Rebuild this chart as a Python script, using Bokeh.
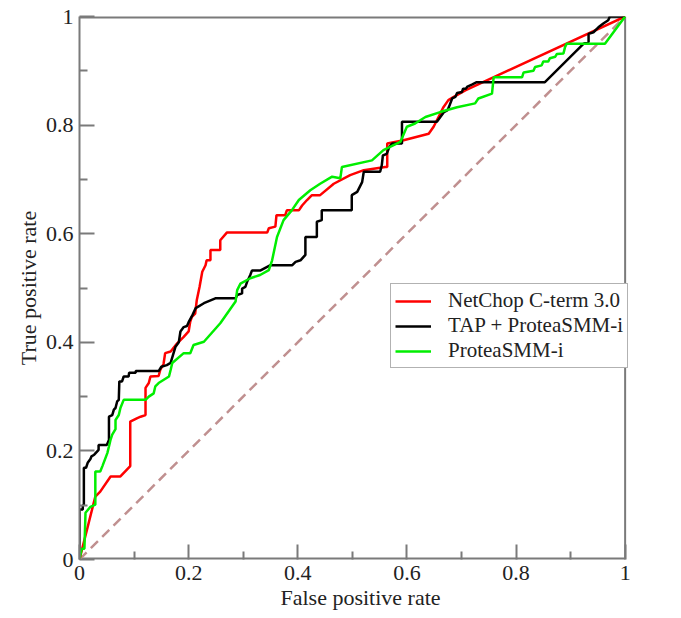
from bokeh.plotting import figure
from bokeh.models import Range1d, FixedTicker, CustomJSTickFormatter, Legend, LegendItem
from bokeh.embed import file_html
from bokeh.resources import INLINE

# ---- data ----
netchop_fpr = [0, 0.029, 0.038, 0.057, 0.075, 0.093, 0.093, 0.105, 0.112, 0.121, 0.121, 0.127, 0.13,
               0.145, 0.148, 0.154, 0.157, 0.167, 0.179, 0.191, 0.2, 0.203, 0.206, 0.212, 0.215, 0.22,
               0.225, 0.231, 0.233, 0.24, 0.24, 0.258, 0.258, 0.27, 0.344, 0.347, 0.359, 0.361, 0.377,
               0.38, 0.402, 0.408, 0.417, 0.426, 0.441, 0.466, 0.496, 0.521, 0.56, 0.564, 0.564, 0.594,
               0.64, 0.649, 0.661, 0.667, 0.676, 0.686, 0.707, 1.0]
netchop_tpr = [0, 0.116, 0.125, 0.153, 0.153, 0.172, 0.254, 0.26, 0.263, 0.266, 0.316, 0.325, 0.337,
               0.338, 0.349, 0.36, 0.38, 0.383, 0.398, 0.41, 0.42, 0.438, 0.447, 0.453, 0.478, 0.502,
               0.53, 0.542, 0.551, 0.551, 0.57, 0.57, 0.588, 0.602, 0.602, 0.61, 0.613, 0.634, 0.634,
               0.643, 0.643, 0.652, 0.662, 0.671, 0.671, 0.692, 0.708, 0.717, 0.723, 0.723, 0.766, 0.772,
               0.784, 0.797, 0.821, 0.833, 0.846, 0.852, 0.864, 1.0]

tap_fpr = [0, 0, 0.006, 0.006, 0.008, 0.008, 0.012, 0.015, 0.02, 0.022, 0.027, 0.035, 0.035, 0.05,
           0.054, 0.054, 0.06, 0.063, 0.066, 0.069, 0.072, 0.073, 0.078, 0.081, 0.09, 0.091, 0.103,
           0.103, 0.145, 0.15, 0.16, 0.167, 0.176, 0.182, 0.185, 0.191, 0.197, 0.2, 0.207, 0.213,
           0.228, 0.249, 0.286, 0.289, 0.298, 0.298, 0.304, 0.307, 0.313, 0.316, 0.331, 0.344, 0.35,
           0.39, 0.396, 0.405, 0.414, 0.414, 0.435, 0.435, 0.444, 0.444, 0.499, 0.499, 0.509, 0.518,
           0.521, 0.551, 0.554, 0.556, 0.563, 0.568, 0.573, 0.591, 0.591, 0.655, 0.668, 0.674, 0.677,
           0.683, 0.689, 0.692, 0.701, 0.703, 0.708, 0.711, 0.72, 0.728, 0.853, 0.924, 0.933, 0.933,
           0.942, 0.951, 0.96, 0.969, 0.972, 1.0]
tap_tpr = [0, 0.092, 0.092, 0.10, 0.10, 0.169, 0.169, 0.178, 0.185, 0.19, 0.193, 0.202, 0.211, 0.211,
           0.22, 0.263, 0.266, 0.276, 0.279, 0.291, 0.294, 0.328, 0.328, 0.337, 0.337, 0.344, 0.344,
           0.347, 0.347, 0.355, 0.358, 0.362, 0.392, 0.40, 0.42, 0.428, 0.43, 0.437, 0.45, 0.463,
           0.472, 0.481, 0.481, 0.487, 0.49, 0.499, 0.502, 0.511, 0.524, 0.532, 0.532, 0.539, 0.542,
           0.542, 0.548, 0.551, 0.561, 0.594, 0.594, 0.622, 0.625, 0.643, 0.643, 0.671, 0.677, 0.695,
           0.714, 0.714, 0.726, 0.744, 0.747, 0.76, 0.766, 0.766, 0.806, 0.806, 0.824, 0.827, 0.833,
           0.849, 0.852, 0.859, 0.861, 0.867, 0.867, 0.871, 0.875, 0.879, 0.879, 0.95, 0.953, 0.968,
           0.971, 0.98, 0.987, 0.993, 1.0, 1.0]

smm_fpr = [0, 0.004, 0.009, 0.011, 0.02, 0.029, 0.029, 0.038, 0.042, 0.051, 0.054, 0.057, 0.06, 0.066,
           0.066, 0.072, 0.075, 0.081, 0.121, 0.127, 0.136, 0.139, 0.145, 0.164, 0.167, 0.17, 0.191,
           0.203, 0.209, 0.228, 0.258, 0.286, 0.289, 0.295, 0.313, 0.331, 0.347, 0.353, 0.362, 0.374,
           0.389, 0.402, 0.423, 0.441, 0.463, 0.478, 0.481, 0.536, 0.557, 0.588, 0.6, 0.615, 0.634,
           0.661, 0.692, 0.725, 0.731, 0.756, 0.759, 0.811, 0.814, 0.832, 0.835, 0.847, 0.85, 0.859,
           0.862, 0.872, 0.875, 0.887, 0.89, 0.893, 0.963, 1.0]
smm_tpr = [0, 0.02, 0.02, 0.086, 0.097, 0.101, 0.162, 0.162, 0.172, 0.196, 0.208, 0.221, 0.23, 0.24,
           0.257, 0.266, 0.279, 0.294, 0.294, 0.3, 0.306, 0.319, 0.325, 0.337, 0.349, 0.362, 0.38,
           0.38, 0.395, 0.401, 0.435, 0.475, 0.496, 0.508, 0.518, 0.524, 0.533, 0.551, 0.594, 0.625,
           0.643, 0.662, 0.68, 0.692, 0.705, 0.702, 0.723, 0.735, 0.754, 0.769, 0.797, 0.803, 0.815,
           0.824, 0.833, 0.84, 0.849, 0.858, 0.888, 0.888, 0.897, 0.9, 0.907, 0.91, 0.917, 0.917,
           0.923, 0.926, 0.931, 0.932, 0.944, 0.95, 0.95, 1.0]

diag_x = [0, 1]
diag_y = [0, 1]

major_ticks = [0, 0.2, 0.4, 0.6, 0.8, 1.0]
minor_ticks = [0.1, 0.3, 0.5, 0.7, 0.9]

series_labels = ["NetChop C-term 3.0", "TAP + ProteaSMM-i", "ProteaSMM-i"]
x_title = "False positive rate"
y_title = "True positive rate"

FONT = "Liberation Serif"
GRAY = "#7a7a7a"

# x range reaches a little past 1 so the legend (which overhangs the box) is not clipped
X_END = 1.03

p = figure(width=673, height=612, x_range=Range1d(0, X_END), y_range=Range1d(0, 1),
           output_backend="svg", toolbar_location=None,
           min_border_left=79, min_border_top=16, min_border_right=673 - 79 - round(546 * X_END),
           min_border_bottom=52)
p.xgrid.visible = False
p.ygrid.visible = False
p.outline_line_color = None
p.background_fill_color = "white"
p.border_fill_color = "white"

fmt = CustomJSTickFormatter(code="return String(Math.round(tick*10)/10);")
for ax in (p.xaxis[0], p.yaxis[0]):
    ax.ticker = FixedTicker(ticks=major_ticks, minor_ticks=minor_ticks)
    ax.formatter = fmt
    ax.axis_line_color = GRAY
    ax.axis_line_width = 2
    ax.major_tick_line_color = GRAY
    ax.minor_tick_line_color = GRAY
    ax.major_tick_line_width = 2
    ax.minor_tick_line_width = 2
    ax.major_tick_in = 15
    ax.major_tick_out = 0
    ax.minor_tick_in = 8
    ax.minor_tick_out = 0
    ax.major_label_text_font = FONT
    ax.major_label_text_font_size = "22px"
    ax.major_label_text_color = "#222222"
    ax.major_label_standoff = 6
    ax.axis_label_text_font = FONT
    ax.axis_label_text_font_size = "22px"
    ax.axis_label_text_font_style = "normal"
    ax.axis_label_text_color = "#222222"
    ax.axis_label_standoff = 2
p.xaxis[0].axis_line_color = None

p.xaxis.axis_label = x_title
p.yaxis.axis_label = y_title

# box: bottom, right, top edges of the data area (0..1)
p.line([0, 1], [0, 0], line_color=GRAY, line_width=4)
p.line([1, 1], [0, 1], line_color=GRAY, line_width=2)
p.line([0, 1], [1, 1], line_color=GRAY, line_width=4)

p.line(diag_x, diag_y, line_color="#c09090", line_width=2.5, line_dash="10 6")
r_red = p.line(netchop_fpr, netchop_tpr, line_color="#ff0000", line_width=2.5)
r_blk = p.line(tap_fpr, tap_tpr, line_color="#000000", line_width=2.5)
r_grn = p.line(smm_fpr, smm_tpr, line_color="#00ee00", line_width=2.5)

legend = Legend(items=[LegendItem(label=series_labels[0], renderers=[r_red]),
                       LegendItem(label=series_labels[1], renderers=[r_blk]),
                       LegendItem(label=series_labels[2], renderers=[r_grn])],
                location=(311, 191))
legend.label_text_font = FONT
legend.label_text_font_size = "21px"
legend.label_text_color = "#222222"
legend.glyph_width = 36
legend.glyph_height = 20
legend.label_height = 20
legend.label_standoff = 17
legend.spacing = 0
legend.padding = 4
legend.margin = 0
legend.border_line_color = "#666666"
legend.border_line_width = 1.5
legend.background_fill_color = "white"
legend.background_fill_alpha = 1.0
p.add_layout(legend, "center")

open("out.html", "w").write(file_html(p, INLINE))
